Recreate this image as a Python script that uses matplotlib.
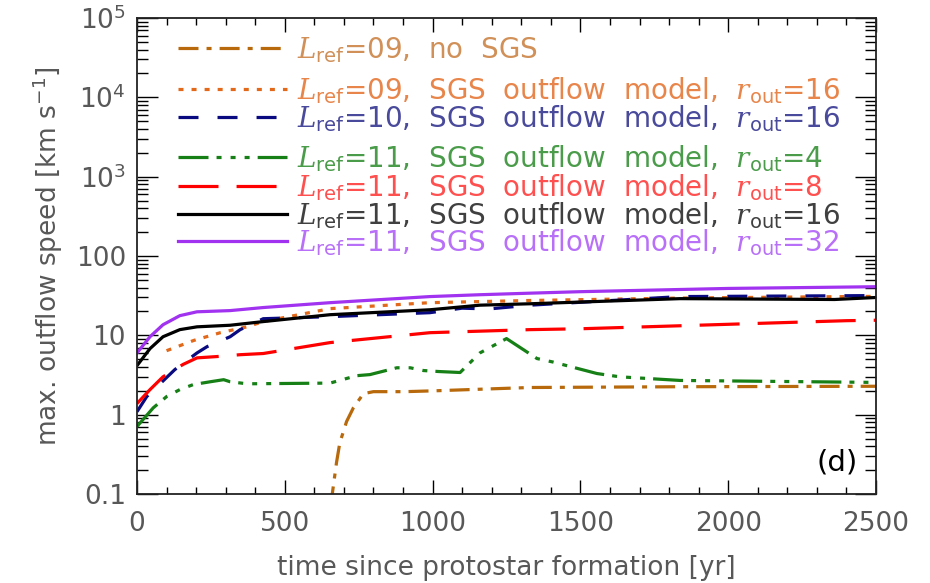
import numpy as np
import matplotlib
matplotlib.use("Agg")
import matplotlib.pyplot as plt
from matplotlib.ticker import MultipleLocator, LogLocator, FixedLocator, NullFormatter

plt.rcParams['font.family'] = ['DejaVu Sans']
plt.rcParams['mathtext.fontset'] = 'custom'
plt.rcParams['mathtext.rm'] = 'DejaVu Sans'
plt.rcParams['mathtext.it'] = 'DejaVu Serif:italic'
plt.rcParams['lines.scale_dashes'] = False

# max. outflow speed [km/s] vs time since protostar formation [yr]
t_l09_nosgs = [655, 675, 686, 709, 732, 766, 800, 907, 1008, 1330, 1837, 2500]
v_l09_nosgs = [0.07, 0.25, 0.44, 0.82, 1.22, 1.84, 1.95, 1.95, 2.0, 2.2, 2.25, 2.28]

t_l09_r16 = [100, 191, 282, 372, 427, 653, 991, 1330, 1837, 2500]
v_l09_r16 = [6.4, 8.6, 10.8, 12.8, 14.9, 21.7, 25.8, 27.5, 29.5, 31.0]

t_l10_r16 = [0, 33, 128, 203, 237, 315, 349, 427, 653, 991, 1100, 1190, 1330, 1837, 2500]
v_l10_r16 = [1.09, 1.69, 3.7, 6.0, 7.2, 9.6, 11.8, 16.2, 17.2, 19.3, 22.0, 21.5, 24.0, 30.8, 31.7]

t_l11_r4 = [0, 55, 101, 145, 191, 248, 293, 315, 372, 653, 743, 788, 879, 924,
            969, 1019, 1093, 1160, 1250, 1353, 1408, 1556, 1633, 1837, 2500]
v_l11_r4 = [0.71, 1.22, 1.7, 2.07, 2.4, 2.6, 2.76, 2.6, 2.45, 2.5, 3.1, 3.2, 3.9, 3.9,
            3.6, 3.5, 3.4, 6.0, 9.1, 5.1, 4.6, 3.3, 3.0, 2.7, 2.55]

t_l11_r8 = [0, 44, 88, 156, 203, 270, 349, 427, 653, 991, 1330, 1500, 1837, 2400, 2500]
v_l11_r8 = [1.38, 2.07, 3.0, 4.3, 5.2, 5.4, 5.7, 5.9, 8.1, 10.8, 11.8, 12.1, 13.2, 15.3, 15.5]

t_l11_r16 = [0, 44, 88, 145, 203, 315, 427, 653, 991, 1160, 1330, 1837, 2360, 2500]
v_l11_r16 = [4.15, 6.8, 9.6, 11.8, 12.8, 13.4, 14.9, 18.2, 21.0, 24.0, 25.0, 29.0, 28.3, 30.0]

t_l11_r32 = [0, 44, 88, 145, 203, 315, 427, 653, 991, 1160, 1330, 1500, 2000, 2500]
v_l11_r32 = [6.0, 9.6, 13.6, 17.7, 19.8, 20.5, 22.4, 25.8, 30.8, 32.5, 34.0, 35.5, 39.0, 41.0]

labels = [r'$L_\mathrm{ref}$=09,  no  SGS',
          r'$L_\mathrm{ref}$=09,  SGS  outflow  model,  $r_\mathrm{out}$=16',
          r'$L_\mathrm{ref}$=10,  SGS  outflow  model,  $r_\mathrm{out}$=16',
          r'$L_\mathrm{ref}$=11,  SGS  outflow  model,  $r_\mathrm{out}$=4',
          r'$L_\mathrm{ref}$=11,  SGS  outflow  model,  $r_\mathrm{out}$=8',
          r'$L_\mathrm{ref}$=11,  SGS  outflow  model,  $r_\mathrm{out}$=16',
          r'$L_\mathrm{ref}$=11,  SGS  outflow  model,  $r_\mathrm{out}$=32']

colors = ['#b8690b', '#e2681a', '#0a0a80', '#168016', '#ff0000', '#000000', '#a032f0']
text_colors = ['#d09058', '#e8854a', '#4a4a9c', '#4a9c4a', '#ff5050', '#404040', '#b870f8']
dashes = [(14.4, 5.8, 3.6, 5.8),
          (3.6, 5.8),
          (14.4, 13.7),
          (21.6, 5.8, 3.6, 6.5, 3.6, 6.5, 3.6, 5.8),
          (28.8, 13.0),
          None,
          None]

series = [(t_l09_nosgs, v_l09_nosgs), (t_l09_r16, v_l09_r16), (t_l10_r16, v_l10_r16),
          (t_l11_r4, v_l11_r4), (t_l11_r8, v_l11_r8), (t_l11_r16, v_l11_r16),
          (t_l11_r32, v_l11_r32)]

fig = plt.figure(figsize=(9.3, 5.83), dpi=100)
ax = fig.add_axes([137 / 930, 1 - 494 / 583, 739 / 930, 476 / 583])

for (t, v), c, d in zip(series, colors, dashes):
    line, = ax.plot(t, v, color=c, lw=2.3)
    if d is not None:
        line.set_dashes(d)

ax.set_yscale('log')
ax.set_xlim(0, 2500)
ax.set_ylim(0.1, 1e5)

ax.xaxis.set_major_locator(MultipleLocator(500))
ax.xaxis.set_minor_locator(MultipleLocator(100))
ax.yaxis.set_major_locator(FixedLocator([0.1, 1, 10, 100, 1e3, 1e4, 1e5]))
ax.yaxis.set_minor_locator(LogLocator(base=10, subs=np.arange(2, 10)))
ax.yaxis.set_minor_formatter(NullFormatter())
ax.set_yticklabels(['0.1', '1', '10', '100', r'10$^3$', r'10$^4$', r'10$^5$'])

ax.tick_params(which='both', direction='in', top=True, right=True, colors='black',
               labelcolor='#585858', labelsize=19, width=1.0)
ax.tick_params(axis='x', which='major', length=10, pad=12)
ax.tick_params(axis='x', which='minor', length=5)
ax.tick_params(axis='y', which='major', length=15, pad=8)
ax.tick_params(axis='y', which='minor', length=8)
for sp in ax.spines.values():
    sp.set_linewidth(1.3)
    sp.set_color('#222222')

ax.set_xlabel('time since protostar formation [yr]', fontsize=19, color='#585858', labelpad=13)
ax.set_ylabel(r'max. outflow speed [km s$^{-1}$]', fontsize=19, color='#585858', labelpad=8)

# legend rows drawn by hand, uneven spacing between groups
row_y = [48, 89, 117, 157, 186, 214, 241]
for y, lab, c, tc, d in zip(row_y, labels, colors, text_colors, dashes):
    yf = (494 - y) / 476
    seg, = ax.plot([0.0555, 0.203], [yf, yf], color=c, lw=2.3, transform=ax.transAxes)
    if d is not None:
        seg.set_dashes(d)
    ax.text(0.2165, yf - 0.004, lab, color=tc, fontsize=20, va='center', ha='left',
            transform=ax.transAxes)

ax.text(0.947, 0.066, '(d)', fontsize=21, color='black', ha='center', va='center',
        transform=ax.transAxes)

fig.savefig('out.png', dpi=100)
